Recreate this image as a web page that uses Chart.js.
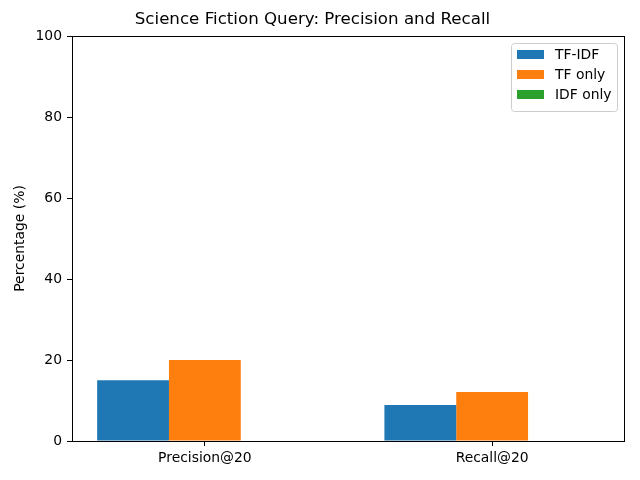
<!DOCTYPE html>
<html>
<head>
<meta charset="utf-8">
<script src="https://cdn.jsdelivr.net/npm/chart.js@4.4.1/dist/chart.umd.min.js"></script>
<style>
  html, body { margin: 0; padding: 0; background: #fff; }
  #wrap { width: 640px; height: 480px; }
</style>
</head>
<body>
<div id="wrap"><canvas id="myChart"></canvas></div>
<script>
// data
var categories = ['Precision@20', 'Recall@20'];
var tfidf = [15, 8.9];
var tfOnly = [20, 12.1];
var idfOnly = [0, 0];
var yTicks = [0, 20, 40, 60, 80, 100];

var FONT = 'DejaVu Sans';

function points(vals) {
    return vals.map(function (v, i) { return { x: i, y: v }; });
}

// frame + legend box like matplotlib
var extras = {
    id: 'extras',
    afterDraw: function (chart) {
        var c = chart.ctx, a = chart.chartArea;
        c.save();
        c.strokeStyle = '#000';
        c.lineWidth = 1;
        c.strokeRect(Math.round(a.left) + 0.5, Math.round(a.top) + 0.5,
            Math.round(a.right - a.left) - 1, Math.round(a.bottom - a.top));

        // legend
        var x0 = 511, y0 = 43, w = 106, h = 68;
        c.fillStyle = 'rgba(255,255,255,0.8)';
        c.strokeStyle = '#cccccc';
        c.beginPath();
        c.roundRect(x0 + 0.5, y0 + 0.5, w, h, 3);
        c.fill();
        c.stroke();
        c.font = '13.9px "' + FONT + '"';
        c.textBaseline = 'middle';
        c.textAlign = 'left';
        chart.data.datasets.forEach(function (ds, i) {
            var yy = y0 + 11 + i * 20;
            c.fillStyle = ds.backgroundColor;
            c.fillRect(x0 + 6, yy - 4, 27, 9);
            c.fillStyle = '#000';
            c.fillText(ds.label, x0 + 44, yy + 1);
        });
        c.restore();
    }
};

var ctx = document.getElementById('myChart').getContext('2d');

var graphData = {
    type: 'bar',
    data: {
        datasets: [{
            label: 'TF-IDF',
            data: points(tfidf),
            backgroundColor: '#1f77b4'
        }, {
            label: 'TF only',
            data: points(tfOnly),
            backgroundColor: '#ff7f0e'
        }, {
            label: 'IDF only',
            data: points(idfOnly),
            backgroundColor: '#2ca02c'
        }]
    },
    options: {
        responsive: false,
        animation: false,
        layout: { padding: { left: 0, right: 15, top: 0, bottom: 0 } },
        datasets: { bar: { categoryPercentage: 0.75, barPercentage: 1.0 } },
        plugins: {
            legend: { display: false },
            tooltip: { enabled: false },
            title: {
                display: true,
                text: 'Science Fiction Query: Precision and Recall',
                color: '#000',
                font: { family: FONT, size: 16.67, weight: 'normal' },
                padding: { top: 10, bottom: 6 }
            }
        },
        scales: {
            x: {
                type: 'linear',
                offset: false,
                min: -0.4625,
                max: 1.4625,
                afterBuildTicks: function (axis) {
                    axis.ticks = categories.map(function (c, i) { return { value: i }; });
                },
                afterFit: function (axis) { axis.height = 39; },
                ticks: {
                    color: '#000',
                    font: { family: FONT, size: 13.9 },
                    padding: 4,
                    maxRotation: 0,
                    callback: function (v) { return categories[v]; }
                },
                grid: { offset: false, drawOnChartArea: false, tickLength: 5, color: '#000' },
                border: { display: false }
            },
            y: {
                min: 0,
                max: 100,
                afterBuildTicks: function (axis) {
                    axis.ticks = yTicks.map(function (v) { return { value: v }; });
                },
                afterFit: function (axis) { axis.width = 72; },
                ticks: {
                    color: '#000',
                    font: { family: FONT, size: 13.9 },
                    padding: 5
                },
                grid: { drawOnChartArea: false, tickLength: 5, color: '#000' },
                border: { display: false },
                title: {
                    display: true,
                    text: 'Percentage (%)',
                    color: '#000',
                    font: { family: FONT, size: 13.9 },
                    padding: { top: 12, bottom: 0 }
                }
            }
        }
    },
    plugins: [extras]
};

var canvas = document.getElementById('myChart');
canvas.width = 640;
canvas.height = 480;
var myChart = new Chart(ctx, graphData);
</script>
</body>
</html>
